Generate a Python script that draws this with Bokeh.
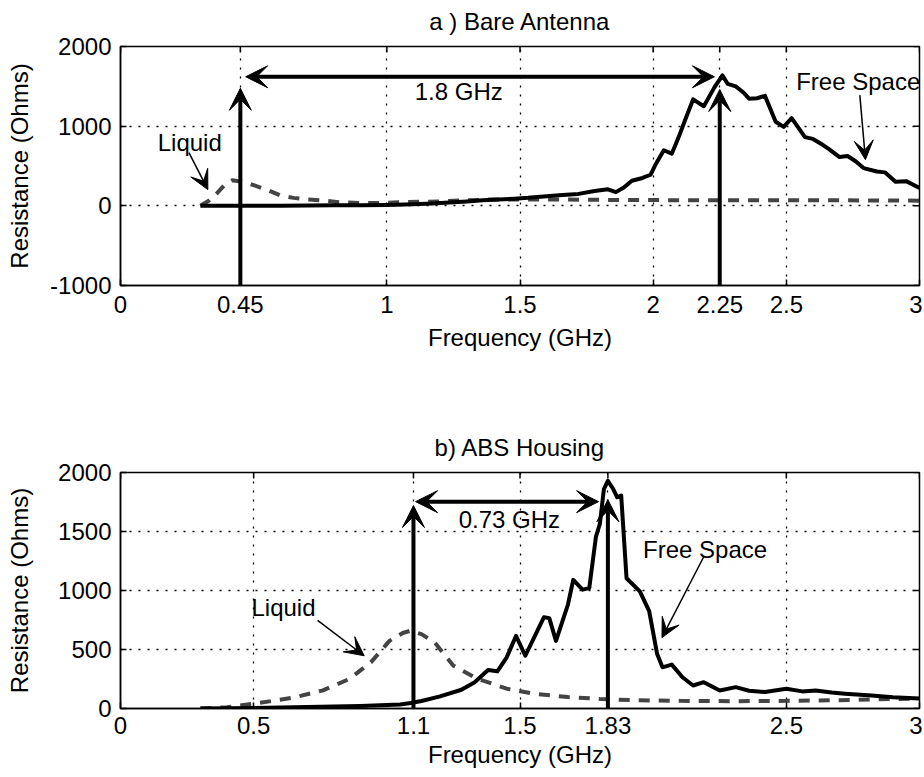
from bokeh.plotting import figure
from bokeh.layouts import column
from bokeh.models import FixedTicker, Range1d, Arrow, VeeHead, Label, LinearAxis
from bokeh.embed import file_html
from bokeh.resources import INLINE

FONT = "Liberation Sans"

# ---------------- panel a) Bare Antenna ----------------
a_title = "a ) Bare Antenna"
a_free_x = [0.30, 0.40, 0.50, 0.60, 0.70, 0.80, 0.90, 1.00, 1.10, 1.17, 1.25, 1.30, 1.36, 1.42,
            1.48, 1.53, 1.60, 1.66, 1.72, 1.78, 1.83, 1.86, 1.89, 1.92, 1.96, 1.99, 2.01, 2.04,
            2.07, 2.10, 2.12, 2.15, 2.19, 2.23, 2.26, 2.28, 2.31, 2.34, 2.36, 2.39, 2.42, 2.46,
            2.49, 2.52, 2.57, 2.60, 2.63, 2.66, 2.70, 2.73, 2.76, 2.79, 2.84, 2.87, 2.91, 2.95, 3.00]
a_free_r = [0, 0, 0, 2, 4, 6, 8, 12, 20, 30, 45, 55, 70, 80,
            90, 100, 120, 135, 150, 185, 207, 172, 230, 315, 350, 390, 526, 698,
            655, 900, 1078, 1336, 1250, 1487, 1638, 1530, 1500, 1420, 1345, 1350, 1380, 1056,
            991, 1100, 862, 840, 780, 711, 612, 625, 560, 474, 431, 420, 302, 310, 224]
a_liq_x = [0.30, 0.33, 0.36, 0.39, 0.42, 0.46, 0.50, 0.55, 0.60, 0.65, 0.70, 0.75, 0.82, 0.90,
           0.97, 1.05, 1.12, 1.20, 1.30, 1.40, 1.60, 1.80, 2.00, 2.20, 2.40, 2.60, 2.80, 3.00]
a_liq_r = [0, 60, 150, 260, 320, 300, 260, 200, 130, 100, 80, 70, 45, 35,
           35, 45, 50, 55, 70, 80, 80, 75, 72, 70, 70, 70, 68, 65]
a_xticks = [0, 0.45, 1, 1.5, 2, 2.25, 2.5, 3]
a_xtick_labels = ["0", "0.45", "1", "1.5", "2", "2.25", "2.5", "3"]
a_yticks = [-1000, 0, 1000, 2000]
a_ytick_labels = ["-1000", "0", "1000", "2000"]
a_yrange = (-1000, 2000)
a_marker_x = [0.45, 2.25]
a_marker_top = [1475, 1460]
a_span = (0.47, 2.23, 1620)
a_texts = ["Liquid", "1.8 GHz", "Free Space"]
a_text_x = [0.26, 1.27, 2.77]
a_text_y = [796, 1430, 1560]
a_pointers = [(0.257, 669, 0.328, 204), (2.776, 1390, 2.797, 580)]

# ---------------- panel b) ABS Housing ----------------
b_title = "b) ABS Housing"
b_free_x = [0.30, 0.50, 0.70, 0.90, 1.00, 1.05, 1.09, 1.13, 1.20, 1.28, 1.33, 1.38, 1.415, 1.45,
            1.485, 1.52, 1.565, 1.59, 1.61, 1.635, 1.68, 1.70, 1.735, 1.76, 1.785, 1.80, 1.815,
            1.83, 1.85, 1.865, 1.88, 1.90, 1.95, 1.985, 2.015, 2.035, 2.07, 2.11, 2.15, 2.19,
            2.25, 2.31, 2.36, 2.42, 2.50, 2.56, 2.61, 2.67, 2.72, 2.82, 2.90, 3.00]
b_free_r = [0, 5, 12, 22, 30, 34, 47, 64, 103, 159, 223, 327, 315, 433,
            615, 447, 657, 774, 766, 573, 881, 1090, 1007, 1020, 1454, 1566, 1859,
            1929, 1860, 1790, 1804, 1104, 992, 825, 461, 349, 372, 265, 195, 223,
            153, 181, 150, 139, 168, 145, 153, 135, 126, 111, 95, 84]
b_liq_x = [0.30, 0.40, 0.52, 0.65, 0.76, 0.86, 0.94, 1.01, 1.06, 1.09, 1.13, 1.18, 1.25, 1.34,
           1.45, 1.55, 1.68, 1.80, 1.93, 2.10, 2.30, 2.50, 2.70, 2.85, 3.00]
b_liq_r = [0, 10, 47, 92, 154, 251, 391, 573, 640, 660, 630, 559, 363, 252,
           168, 126, 97, 81, 70, 65, 62, 65, 70, 78, 85]
b_xticks = [0, 0.5, 1.1, 1.5, 1.83, 2.5, 3]
b_xtick_labels = ["0", "0.5", "1.1", "1.5", "1.83", "2.5", "3"]
b_yticks = [0, 500, 1000, 1500, 2000]
b_ytick_labels = ["0", "500", "1000", "1500", "2000"]
b_yrange = (0, 2000)
b_marker_x = [1.1, 1.83]
b_marker_top = [1720, 1770]
b_span = (1.108, 1.795, 1753)
b_texts = ["Liquid", "0.73 GHz", "Free Space"]
b_text_x = [0.612, 1.46, 2.195]
b_text_y = [852, 1602, 1351]
b_pointers = [(0.74, 746, 0.915, 447), (2.19, 1286, 2.033, 601)]

x_label = "Frequency (GHz)"
y_label = "Resistance (Ohms)"
FS = "24px"
X_RANGE = (0, 3)
TICK_PX = 6


def style_axis(ax, ticks, labels):
    ax.ticker = FixedTicker(ticks=ticks)
    ax.major_label_overrides = {t: l for t, l in zip(ticks, labels)}
    ax.major_tick_in = TICK_PX
    ax.major_tick_out = 0
    ax.minor_tick_in = 0
    ax.minor_tick_out = 0
    ax.major_tick_line_width = 1.5
    ax.major_tick_line_color = "black"
    ax.axis_line_width = 1.5
    ax.axis_line_color = "black"
    ax.major_label_text_font = FONT
    ax.major_label_text_color = "black"
    ax.major_label_text_font_size = FS
    ax.axis_label_text_font = FONT
    ax.axis_label_text_font_size = FS
    ax.axis_label_text_font_style = "normal"
    ax.axis_label_text_color = "black"


def make_panel(title, free_x, free_r, liq_x, liq_r, xticks, xlabels, yticks, ylabels, yrange,
               marker_x, marker_top, span, texts, tx, ty, pointers,
               height, mb_top, mb_bottom, ylab_standoff, xl_standoff, xal_standoff):
    width = 922
    mbl, mbr = 120, 3
    p = figure(width=width, height=height, output_backend="svg", toolbar_location=None,
               x_range=Range1d(*X_RANGE), y_range=Range1d(*yrange),
               min_border_left=mbl, min_border_right=mbr,
               min_border_top=mb_top, min_border_bottom=mb_bottom)
    p.outline_line_color = "black"
    p.outline_line_width = 1.5
    p.background_fill_color = "white"
    p.border_fill_color = "white"

    style_axis(p.xaxis[0], xticks, xlabels)
    style_axis(p.yaxis[0], yticks, ylabels)
    p.xaxis.major_label_standoff = xl_standoff
    p.yaxis.major_label_standoff = 9
    p.xaxis.axis_label = x_label
    p.yaxis.axis_label = y_label
    p.xaxis.axis_label_standoff = xal_standoff
    p.yaxis.axis_label_standoff = ylab_standoff

    # panel title as the label of a tick-less axis above the frame
    title_ax = LinearAxis(ticker=FixedTicker(ticks=[]), axis_label=title,
                          axis_line_color=None, major_tick_line_color=None,
                          minor_tick_line_color=None, axis_label_standoff=12,
                          axis_label_text_font=FONT, axis_label_text_font_size=FS,
                          axis_label_text_font_style="normal", axis_label_text_color="black")
    p.add_layout(title_ax, "above")

    for g, t in ((p.xgrid[0], xticks), (p.ygrid[0], yticks)):
        g.ticker = FixedTicker(ticks=t)
        g.grid_line_color = "black"
        g.grid_line_dash = "2 7"
        g.grid_line_width = 1.3
        g.grid_line_alpha = 1.0

    # inward ticks on the top and right edges (box on), lengths converted from pixels
    frame_w = width - mbl - mbr
    frame_h = height - mb_top - mb_bottom
    dy = TICK_PX * (yrange[1] - yrange[0]) / frame_h
    dx = TICK_PX * (X_RANGE[1] - X_RANGE[0]) / frame_w
    p.segment(x0=xticks, y0=[yrange[1]] * len(xticks), x1=xticks, y1=[yrange[1] - dy] * len(xticks),
              line_color="black", line_width=1.5)
    p.segment(x0=[X_RANGE[1]] * len(yticks), y0=yticks, x1=[X_RANGE[1] - dx] * len(yticks), y1=yticks,
              line_color="black", line_width=1.5)

    p.line(liq_x, liq_r, line_color="#444444", line_width=4, line_dash="11 9")
    p.line(free_x, free_r, line_color="black", line_width=4, line_join="round")

    y0 = yrange[0]
    for mx, mt in zip(marker_x, marker_top):
        p.add_layout(Arrow(x_start=mx, y_start=y0, x_end=mx, y_end=mt,
                           line_width=4, line_color="black",
                           end=VeeHead(size=22, fill_color="black", line_color="black", line_width=1)))
    sx0, sx1, sy = span
    p.add_layout(Arrow(x_start=sx0, y_start=sy, x_end=sx1, y_end=sy,
                       line_width=4, line_color="black",
                       start=VeeHead(size=22, fill_color="black", line_color="black", line_width=1),
                       end=VeeHead(size=22, fill_color="black", line_color="black", line_width=1)))
    for (xs, ys, xe, ye) in pointers:
        p.add_layout(Arrow(x_start=xs, y_start=ys, x_end=xe, y_end=ye,
                           line_width=1.5, line_color="black",
                           end=VeeHead(size=19, fill_color="black", line_color="black", line_width=1)))
    for t, x, y in zip(texts, tx, ty):
        p.add_layout(Label(x=x, y=y, text=t, text_align="center", text_baseline="middle",
                           text_font=FONT, text_font_size=FS, text_color="black"))
    return p


p1 = make_panel(a_title, a_free_x, a_free_r, a_liq_x, a_liq_r, a_xticks, a_xtick_labels,
                a_yticks, a_ytick_labels, a_yrange, a_marker_x, a_marker_top, a_span,
                a_texts, a_text_x, a_text_y, a_pointers,
                height=355, mb_top=46, mb_bottom=70, ylab_standoff=14,
                xl_standoff=10, xal_standoff=8)
p2 = make_panel(b_title, b_free_x, b_free_r, b_liq_x, b_liq_r, b_xticks, b_xtick_labels,
                b_yticks, b_ytick_labels, b_yrange, b_marker_x, b_marker_top, b_span,
                b_texts, b_text_x, b_text_y, b_pointers,
                height=419, mb_top=117, mb_bottom=66, ylab_standoff=22,
                xl_standoff=8, xal_standoff=4)

layout = column(p1, p2, spacing=0)
open("out.html", "w").write(file_html(layout, INLINE))
